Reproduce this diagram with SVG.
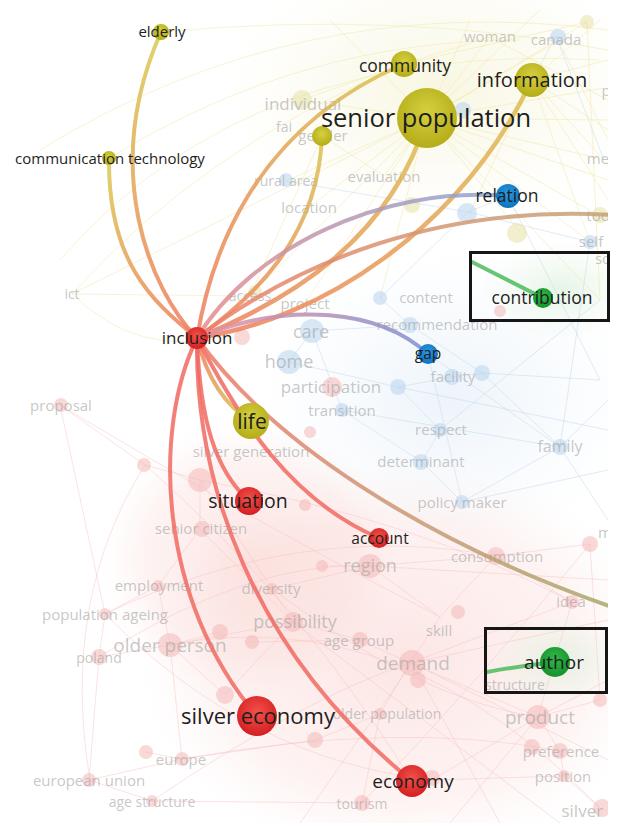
<svg xmlns="http://www.w3.org/2000/svg" width="617" height="823" viewBox="0 0 617 823">
<defs>
<style>
.lbl{font-family:"Open Sans","Noto Sans",sans-serif;fill:#1e1e1e;text-anchor:middle}
.fd{font-family:"Open Sans","Noto Sans",sans-serif;fill:#a4a4a4;fill-opacity:.62;text-anchor:middle;font-size:15px}
.e{fill:none;stroke-width:4;stroke-linecap:round;stroke-opacity:.85}
.red{stroke:#f06a62}
.by{stroke:#f2e8a8;stroke-width:1;fill:none;stroke-opacity:.5}
.bb{stroke:#c4daf0;stroke-width:1;fill:none;stroke-opacity:.5}
.br{stroke:#f6c2c0;stroke-width:1;fill:none;stroke-opacity:.45}
.fy{fill:#e6e2a6;fill-opacity:.55}
.fb{fill:#b8d4ee;fill-opacity:.55}
.fr{fill:#f4b8b8;fill-opacity:.55}
.box{fill:none;stroke:#161616;stroke-width:3}
</style>
<radialGradient id="ny" cx="50%" cy="40%" r="60%"><stop offset="0" stop-color="#d6d040"/><stop offset="1" stop-color="#b4ac18"/></radialGradient>
<radialGradient id="nr" cx="50%" cy="40%" r="60%"><stop offset="0" stop-color="#f2524a"/><stop offset="1" stop-color="#d41e22"/></radialGradient>
<radialGradient id="nb" cx="50%" cy="40%" r="60%"><stop offset="0" stop-color="#2a9ae0"/><stop offset="1" stop-color="#0c72c0"/></radialGradient>
<radialGradient id="ng" cx="50%" cy="40%" r="60%"><stop offset="0" stop-color="#34b84a"/><stop offset="1" stop-color="#12922a"/></radialGradient>
<radialGradient id="hazeR"><stop offset="0" stop-color="#f8c8c4" stop-opacity=".45"/><stop offset=".7" stop-color="#f8d0cc" stop-opacity=".25"/><stop offset="1" stop-color="#fbe0de" stop-opacity="0"/></radialGradient>
<radialGradient id="hazeB"><stop offset="0" stop-color="#d6e6f4" stop-opacity=".45"/><stop offset="1" stop-color="#e4eef8" stop-opacity="0"/></radialGradient>
<radialGradient id="hazeY"><stop offset="0" stop-color="#f2eec4" stop-opacity=".5"/><stop offset="1" stop-color="#f6f2d4" stop-opacity="0"/></radialGradient>
<radialGradient id="hazeG"><stop offset="0" stop-color="#d4eed4" stop-opacity=".6"/><stop offset="1" stop-color="#e4f4e4" stop-opacity="0"/></radialGradient>
<linearGradient id="gEld" gradientUnits="userSpaceOnUse" x1="197" y1="338" x2="161" y2="32"><stop offset="0" stop-color="#f07a5c"/><stop offset="1" stop-color="#d8cc50"/></linearGradient>
<linearGradient id="gCom" gradientUnits="userSpaceOnUse" x1="197" y1="338" x2="109" y2="158"><stop offset="0" stop-color="#f07a5c"/><stop offset="1" stop-color="#d8cc50"/></linearGradient>
<linearGradient id="gCmt" gradientUnits="userSpaceOnUse" x1="197" y1="338" x2="404" y2="64"><stop offset="0" stop-color="#f07a5c"/><stop offset="1" stop-color="#d8c450"/></linearGradient>
<linearGradient id="gGen" gradientUnits="userSpaceOnUse" x1="197" y1="338" x2="322" y2="136"><stop offset="0" stop-color="#f07a5c"/><stop offset="1" stop-color="#d8c450"/></linearGradient>
<linearGradient id="gSen" gradientUnits="userSpaceOnUse" x1="197" y1="338" x2="427" y2="118"><stop offset="0" stop-color="#f07a5c"/><stop offset="1" stop-color="#dcc050"/></linearGradient>
<linearGradient id="gInf" gradientUnits="userSpaceOnUse" x1="197" y1="338" x2="532" y2="80"><stop offset="0" stop-color="#f07a5c"/><stop offset="1" stop-color="#dcc050"/></linearGradient>
<linearGradient id="gRel" gradientUnits="userSpaceOnUse" x1="197" y1="338" x2="508" y2="196"><stop offset="0" stop-color="#ec8a88"/><stop offset="1" stop-color="#8aa4d8"/></linearGradient>
<linearGradient id="gGap" gradientUnits="userSpaceOnUse" x1="197" y1="338" x2="428" y2="354"><stop offset="0" stop-color="#e890a0"/><stop offset="1" stop-color="#7c90d0"/></linearGradient>
<linearGradient id="gTool" gradientUnits="userSpaceOnUse" x1="197" y1="338" x2="610" y2="215"><stop offset="0" stop-color="#ee8068"/><stop offset="1" stop-color="#c4a478"/></linearGradient>
<linearGradient id="gIdea" gradientUnits="userSpaceOnUse" x1="197" y1="338" x2="610" y2="607"><stop offset="0" stop-color="#ee7a68"/><stop offset=".6" stop-color="#c89a78"/><stop offset="1" stop-color="#a8a868"/></linearGradient>
<linearGradient id="gLife" gradientUnits="userSpaceOnUse" x1="197" y1="338" x2="251" y2="421"><stop offset="0" stop-color="#f07a5c"/><stop offset="1" stop-color="#d8c450"/></linearGradient>
<clipPath id="cl"><rect x="0" y="0" width="608" height="823"/></clipPath>
</defs>
<rect width="617" height="823" fill="#ffffff"/>
<g clip-path="url(#cl)">
<g id="background-haze">
<ellipse cx="440" cy="90" rx="220" ry="130" fill="url(#hazeY)"/>
<ellipse cx="450" cy="400" rx="190" ry="150" fill="url(#hazeB)"/>
<ellipse cx="400" cy="660" rx="260" ry="200" fill="url(#hazeR)"/>
<ellipse cx="250" cy="560" rx="150" ry="140" fill="url(#hazeR)"/>
<ellipse cx="560" cy="290" rx="80" ry="50" fill="url(#hazeG)"/>
<ellipse cx="560" cy="660" rx="70" ry="45" fill="url(#hazeG)"/>
</g>
<g id="background-links">
<path class="by" d="M427,118 L490,37 M427,118 L562,39 M427,118 L604,88 M427,118 L598,158 M427,118 L598,215 M427,118 L590,242 M427,118 L302,100 M427,118 L286,181 M427,118 L309,207 M427,118 L384,176 M427,118 L72,294 M427,118 L250,296 M427,118 L305,303 M427,118 L520,232 M427,118 L600,300 M427,118 L587,22 M427,118 L380,298 M427,118 L470,20 M427,118 L608,120 M427,118 L540,10 M427,118 L330,20 M427,118 L608,180"/>
<path class="by" d="M532,80 L600,20 M532,80 L604,160 M532,80 L590,242 M532,80 L470,212 M532,80 L608,60 M532,80 L608,130 M532,80 L608,200 M404,64 L302,100 M404,64 L490,37 M404,64 L587,22 M322,136 L250,296 M322,136 L384,176 M556,36 L608,140 M587,22 L600,300 M490,37 L608,100"/>
<path class="by" d="M40,150 Q300,-10 608,30 M60,260 Q250,40 600,60 M110,158 Q300,40 520,40 M72,294 Q200,150 404,64 M72,294 L250,296 M72,294 Q140,360 230,335 M161,32 Q400,10 608,50"/>
<path class="bb" d="M286,181 L468,212 M468,212 L380,298 M468,212 L590,242 M468,212 L508,196 M380,298 L410,325 M410,325 L312,331 M312,331 L289,362 M289,362 L398,387 M398,387 L452,377 M452,377 L482,373 M482,373 L560,447 M440,430 L422,462 M422,462 L462,502 M462,502 L560,447 M410,325 L482,373 M398,387 L440,430 M312,331 L342,410 M342,410 L422,462 M556,36 L532,80 M556,36 L604,160 M590,242 L560,447 M508,196 L600,380 M600,380 L482,373 M440,430 L600,300 M342,410 L560,447 M560,447 L608,520 M560,447 L608,400 M462,502 L608,470 M398,387 L608,430 M428,354 L560,447 M428,354 L462,502"/>
<path class="br" d="M60,405 L145,465 M145,465 L200,480 M200,480 L200,529 M200,529 L158,586 M158,586 L105,614 M105,614 L99,657 M99,657 L170,645 M170,645 L293,622 M293,622 L272,589 M272,589 L370,566 M370,566 L496,556 M496,556 L590,544 M293,622 L360,640 M360,640 L410,663 M410,663 L440,617 M410,663 L538,717 M538,717 L560,751 M560,751 L564,776 M564,776 L600,808 M410,663 L380,714 M380,714 L362,803 M170,645 L182,759 M182,759 L89,780 M89,780 L152,801 M152,801 L362,803 M182,759 L145,752 M225,695 L170,645 M225,695 L293,622 M572,602 L538,717 M572,602 L496,556 M440,617 L496,556 M410,663 L572,602 M322,566 L370,566 M200,480 L272,589 M158,586 L170,645 M99,657 L89,780 M432,780 L538,717 M432,780 L564,776 M315,740 L380,714 M315,740 L182,759 M200,529 L293,622 M370,566 L440,617 M590,544 L600,700 M600,700 L538,717 M250,642 L360,640 M220,632 L170,645 M60,405 L105,614"/>
<path class="br" d="M90,780 Q60,600 145,465 M152,801 Q300,700 410,663 M105,614 Q300,520 496,556 M170,645 Q400,600 600,808 M60,405 Q250,520 440,617 M362,803 Q480,680 590,544 M182,759 Q400,720 560,751 M99,657 Q250,560 370,566 M200,480 Q420,520 572,602 M145,465 Q300,600 412,781 M105,614 Q250,760 432,780 M272,589 Q420,700 538,717 M412,663 L608,620 M412,663 L608,760 M412,663 L300,823 M412,663 L500,823 M538,717 L608,680 M538,717 L450,823 M370,566 L608,580 M293,622 L560,823"/>
</g>
<g id="background-nodes">
<circle class="fb" cx="558" cy="37" r="8"/><circle class="fy" cx="587" cy="22" r="7"/><circle class="fb" cx="463" cy="110" r="8"/>
<circle class="fy" cx="302" cy="100" r="10"/><circle class="fb" cx="286" cy="180" r="7"/><circle class="fb" cx="467" cy="213" r="10"/>
<circle class="fy" cx="517" cy="233" r="10"/><circle class="fy" cx="600" cy="215" r="8"/><circle class="fb" cx="590" cy="242" r="7"/>
<circle class="fy" cx="412" cy="205" r="8"/><circle class="fy" cx="255" cy="292" r="7"/>
<circle class="fb" cx="380" cy="298" r="7"/><circle class="fb" cx="410" cy="325" r="8"/><circle class="fb" cx="312" cy="331" r="12"/>
<circle class="fb" cx="289" cy="362" r="12"/><circle class="fr" cx="332" cy="387" r="10"/><circle class="fb" cx="398" cy="387" r="8"/>
<circle class="fb" cx="482" cy="373" r="8"/><circle class="fb" cx="452" cy="377" r="8"/><circle class="fb" cx="342" cy="410" r="7"/>
<circle class="fr" cx="500" cy="311" r="6"/><circle class="fr" cx="242" cy="337" r="8"/><circle class="fr" cx="61" cy="405" r="7"/>
<circle class="fb" cx="440" cy="430" r="7"/><circle class="fb" cx="560" cy="447" r="8"/><circle class="fb" cx="421" cy="462" r="8"/>
<circle class="fb" cx="462" cy="502" r="7"/><circle class="fr" cx="144" cy="465" r="7"/><circle class="fr" cx="200" cy="480" r="12"/>
<circle class="fr" cx="202" cy="529" r="8"/><circle class="fr" cx="370" cy="566" r="12"/><circle class="fr" cx="322" cy="566" r="6"/>
<circle class="fr" cx="496" cy="556" r="9"/><circle class="fr" cx="590" cy="544" r="8"/><circle class="fr" cx="158" cy="586" r="6"/>
<circle class="fr" cx="272" cy="589" r="6"/><circle class="fr" cx="105" cy="614" r="6"/><circle class="fr" cx="293" cy="622" r="10"/>
<circle class="fr" cx="170" cy="645" r="12"/><circle class="fr" cx="99" cy="657" r="8"/><circle class="fr" cx="220" cy="632" r="8"/>
<circle class="fr" cx="252" cy="642" r="7"/><circle class="fr" cx="225" cy="695" r="9"/><circle class="fr" cx="458" cy="612" r="7"/>
<circle class="fr" cx="360" cy="640" r="8"/><circle class="fr" cx="412" cy="663" r="13"/><circle class="fr" cx="418" cy="680" r="8"/>
<circle class="fr" cx="572" cy="602" r="7"/><circle class="fr" cx="380" cy="714" r="6"/><circle class="fr" cx="315" cy="740" r="8"/>
<circle class="fr" cx="538" cy="717" r="12"/><circle class="fr" cx="532" cy="747" r="8"/><circle class="fr" cx="560" cy="751" r="8"/>
<circle class="fr" cx="564" cy="776" r="6"/><circle class="fr" cx="602" cy="808" r="9"/><circle class="fr" cx="182" cy="759" r="7"/>
<circle class="fr" cx="146" cy="752" r="7"/><circle class="fr" cx="89" cy="780" r="7"/><circle class="fr" cx="152" cy="801" r="6"/>
<circle class="fr" cx="362" cy="803" r="8"/><circle class="fr" cx="432" cy="778" r="8"/><circle class="fr" cx="310" cy="432" r="6"/>
<circle class="fr" cx="305" cy="505" r="6"/><circle class="fr" cx="600" cy="700" r="7"/>
</g>
<g id="background-labels">
<text class="fd" x="490" y="42">woman</text>
<text class="fd" x="556" y="45">canada</text>
<text class="fd" x="611" y="35">t</text>
<text class="fd" x="606" y="96">p</text>
<text class="fd" x="303" y="110" style="font-size:17px">individual</text>
<text class="fd" x="284" y="132" style="font-size:14px">fai</text>
<text class="fd" x="323" y="141">gender</text>
<text class="fd" x="286" y="186" style="font-size:14px">rural area</text>
<text class="fd" x="309" y="213">location</text>
<text class="fd" x="384" y="182">evaluation</text>
<text class="fd" x="598" y="164">me</text>
<text class="fd" x="598" y="221">too</text>
<text class="fd" x="591" y="247">self</text>
<text class="fd" x="603" y="264">so</text>
<text class="fd" x="72" y="299" style="font-size:14px">ict</text>
<text class="fd" x="250" y="301" style="font-size:14px">access</text>
<text class="fd" x="305" y="309">project</text>
<text class="fd" x="426" y="303">content</text>
<text class="fd" x="437" y="330">recommendation</text>
<text class="fd" x="311" y="338" style="font-size:18px">care</text>
<text class="fd" x="289" y="368" style="font-size:18px">home</text>
<text class="fd" x="331" y="393" style="font-size:17px">participation</text>
<text class="fd" x="342" y="416">transition</text>
<text class="fd" x="453" y="382">facility</text>
<text class="fd" x="61" y="411">proposal</text>
<text class="fd" x="441" y="435">respect</text>
<text class="fd" x="560" y="452" style="font-size:16px">family</text>
<text class="fd" x="421" y="467">determinant</text>
<text class="fd" x="251" y="457">silver generation</text>
<text class="fd" x="462" y="508">policy maker</text>
<text class="fd" x="201" y="534">senior citizen</text>
<text class="fd" x="370" y="572" style="font-size:18px">region</text>
<text class="fd" x="497" y="562">consumption</text>
<text class="fd" x="605" y="538">m</text>
<text class="fd" x="159" y="591">employment</text>
<text class="fd" x="271" y="594">diversity</text>
<text class="fd" x="105" y="620">population ageing</text>
<text class="fd" x="295" y="628" style="font-size:18px">possibility</text>
<text class="fd" x="170" y="652" style="font-size:19px">older person</text>
<text class="fd" x="99" y="663" style="font-size:14px">poland</text>
<text class="fd" x="439" y="636">skill</text>
<text class="fd" x="359" y="646">age group</text>
<text class="fd" x="413" y="670" style="font-size:19px">demand</text>
<text class="fd" x="571" y="607">idea</text>
<text class="fd" x="387" y="719" style="font-size:14px">older population</text>
<text class="fd" x="515" y="690" style="font-size:14px">structure</text>
<text class="fd" x="540" y="724" style="font-size:19px">product</text>
<text class="fd" x="561" y="757">preference</text>
<text class="fd" x="563" y="782">position</text>
<text class="fd" x="588" y="817" style="font-size:17px">silver r</text>
<text class="fd" x="181" y="765">europe</text>
<text class="fd" x="89" y="786">european union</text>
<text class="fd" x="152" y="807" style="font-size:14px">age structure</text>
<text class="fd" x="362" y="809" style="font-size:14px">tourism</text>
</g>
<g id="connectors">
<path class="e" stroke="url(#gEld)" d="M197,338 C150,290 100,170 161,32"/>
<path class="e" stroke="url(#gCom)" d="M197,338 C150,300 108,260 109,158"/>
<path class="e" stroke="url(#gCmt)" d="M197,338 C210,260 250,130 404,64"/>
<path class="e" stroke="url(#gGen)" d="M197,338 C250,300 318,240 322,136"/>
<path class="e" stroke="url(#gSen)" style="stroke-width:4.5" d="M197,338 C290,300 390,240 427,118"/>
<path class="e" stroke="url(#gInf)" style="stroke-width:4.5" d="M197,338 C320,320 460,230 532,80"/>
<path class="e" stroke="url(#gRel)" d="M197,338 C250,250 380,185 508,196"/>
<path class="e" stroke="url(#gTool)" d="M197,338 C300,260 440,205 612,215"/>
<path class="e" stroke="url(#gGap)" d="M197,338 C290,300 380,310 428,354"/>
<path class="e" stroke="url(#gLife)" d="M197,338 Q212,398 251,421"/>
<path class="e red" d="M197,338 C200,420 215,470 249,501"/>
<path class="e red" d="M197,338 C240,420 290,500 379,538"/>
<path class="e" stroke="url(#gIdea)" d="M197,338 C270,440 420,540 612,607"/>
<path class="e red" d="M197,338 C152,430 158,600 257,716"/>
<path class="e red" d="M197,338 C195,480 250,650 412,781"/>
<path class="e" stroke="#4cbb5c" d="M472,262 L543,298"/>
<path class="e" stroke="#4cbb5c" d="M487,672 Q520,666 555,662"/>
</g>
</g>
<g id="node-elderly"><circle cx="161" cy="32" r="8" fill="url(#ny)"/><text class="lbl" x="162" y="37" font-size="15">elderly</text></g>
<g id="node-communication-technology"><circle cx="109" cy="158" r="7" fill="url(#ny)"/><text class="lbl" x="110" y="164" font-size="15">communication technology</text></g>
<g id="node-gender"><circle cx="322" cy="136" r="10" fill="url(#ny)"/></g>
<g id="node-community"><circle cx="404" cy="64" r="13" fill="url(#ny)"/><text class="lbl" x="405" y="72" font-size="17.5">community</text></g>
<g id="node-information"><circle cx="532" cy="80" r="17" fill="url(#ny)"/><text class="lbl" x="532" y="87" font-size="20">information</text></g>
<g id="node-senior-population"><circle cx="427" cy="118" r="30" fill="url(#ny)"/><text class="lbl" x="426" y="127" font-size="25.5">senior population</text></g>
<g id="node-relation"><circle cx="508" cy="196" r="12" fill="url(#nb)"/><text class="lbl" x="507" y="202" font-size="17.5">relation</text></g>
<g id="node-contribution"><circle cx="543" cy="298" r="10" fill="url(#ng)"/><text class="lbl" x="542" y="304" font-size="17.5">contribution</text></g>
<g id="node-gap"><circle cx="428" cy="354" r="10" fill="url(#nb)"/><text class="lbl" x="428" y="359" font-size="15.5">gap</text></g>
<g id="node-inclusion"><circle cx="197" cy="338" r="11" fill="url(#nr)"/><text class="lbl" x="197" y="344" font-size="17">inclusion</text></g>
<g id="node-life"><circle cx="251" cy="421" r="18" fill="url(#ny)"/><text class="lbl" x="252" y="429" font-size="21">life</text></g>
<g id="node-situation"><circle cx="249" cy="501" r="14" fill="url(#nr)"/><text class="lbl" x="248" y="508" font-size="19.5">situation</text></g>
<g id="node-account"><circle cx="379" cy="538" r="10" fill="url(#nr)"/><text class="lbl" x="380" y="544" font-size="15.5">account</text></g>
<g id="node-silver-economy"><circle cx="257" cy="716" r="20" fill="url(#nr)"/><text class="lbl" x="258" y="724" font-size="22">silver economy</text></g>
<g id="node-economy"><circle cx="412" cy="781" r="16" fill="url(#nr)"/><text class="lbl" x="413" y="788" font-size="19">economy</text></g>
<g id="node-author"><circle cx="555" cy="662" r="15" fill="url(#ng)"/><text class="lbl" x="554" y="669" font-size="19">author</text></g>
<g id="highlight-boxes">
<rect class="box" x="470.5" y="252.5" width="138" height="68"/>
<rect class="box" x="485.5" y="628.5" width="121" height="64"/>
</g>
</svg>
